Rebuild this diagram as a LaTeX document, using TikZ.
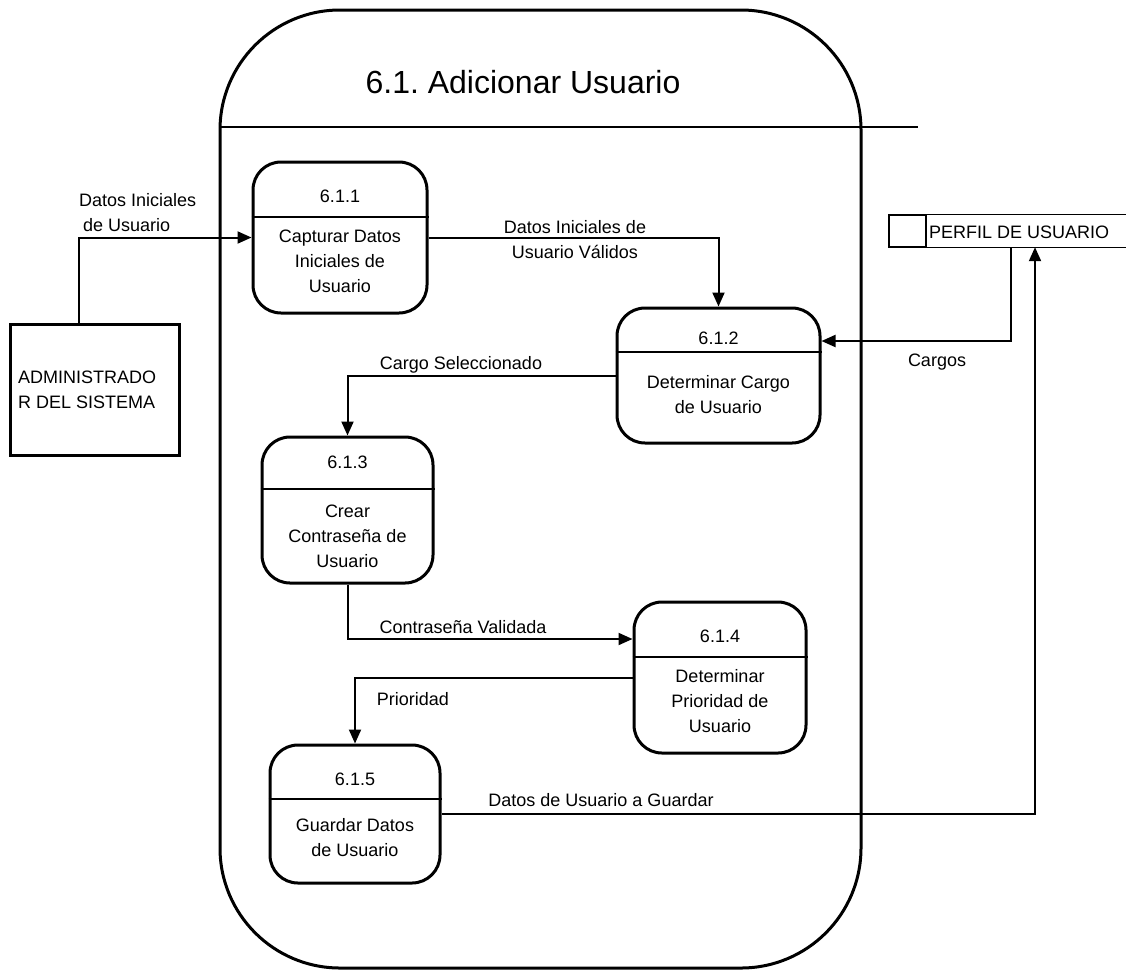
\documentclass[tikz,border=0pt]{standalone}
\usepackage{fontspec}
\setmainfont{Liberation Sans}
\usetikzlibrary{arrows.meta}
\frenchspacing
\begin{document}
\begin{tikzpicture}[x=1pt,y=-1pt,
  proc/.style={draw, line width=3pt, rounded corners=28pt, inner sep=0pt},
  divline/.style={line width=1.5pt},
  flow/.style={line width=2pt, -{Triangle[length=14pt,width=12pt]}},
  lbl/.style={inner sep=0pt, font=\fontsize{18}{25}\selectfont, align=center},
  thinline/.style={line width=1.2pt}
]
\useasboundingbox (0,0) rectangle (1126,970);

% frame
\node[draw, line width=3pt, rounded corners=120pt, minimum width=641pt, minimum height=958pt, inner sep=0pt] (frame) at (540.5,489) {};
\draw[divline] (220,127) -- (918,127);
\node[inner sep=0pt, font=\fontsize{32}{38}\selectfont, anchor=base] (title) at (523,93) {6.1. Adicionar Usuario};

% processes
\node[proc, minimum width=174pt, minimum height=151pt] (p1) at (340,237.5) {};
\draw[divline] ([yshift=20.5pt]p1.west) -- ([yshift=20.5pt]p1.east);
\node[lbl] (p1n) at (340,196) {6.1.1};
\node[lbl] (p1t) at (340,261) {Capturar Datos\\Iniciales de\\Usuario};

\node[proc, minimum width=203pt, minimum height=135pt] (p2) at (718.5,375.5) {};
\draw[divline] ([yshift=23.5pt]p2.west) -- ([yshift=23.5pt]p2.east);
\node[lbl] (p2n) at (718.5,338) {6.1.2};
\node[lbl] (p2t) at (718.5,394.5) {Determinar Cargo\\de Usuario};

\node[proc, minimum width=171pt, minimum height=146pt] (p3) at (347.5,510) {};
\draw[divline] ([yshift=21pt]p3.west) -- ([yshift=21pt]p3.east);
\node[lbl] (p3n) at (347.5,462) {6.1.3};
\node[lbl] (p3t) at (347.5,536.5) {Crear\\Contraseña de\\Usuario};

\node[proc, minimum width=172pt, minimum height=151pt] (p4) at (720,677.5) {};
\draw[divline] ([yshift=20.5pt]p4.west) -- ([yshift=20.5pt]p4.east);
\node[lbl] (p4n) at (720,636) {6.1.4};
\node[lbl] (p4t) at (720,701.5) {Determinar\\Prioridad de\\Usuario};

\node[proc, minimum width=170pt, minimum height=138pt] (p5) at (355,814) {};
\draw[divline] ([yshift=15pt]p5.west) -- ([yshift=15pt]p5.east);
\node[lbl] (p5n) at (355,779) {6.1.5};
\node[lbl] (p5t) at (355,837.5) {Guardar Datos\\de Usuario};

% external entity
\node[draw, line width=3pt, minimum width=169pt, minimum height=131pt, inner sep=0pt] (admin) at (94.5,389.5) {};
\node[lbl, align=left, anchor=west] (admint) at (18,390) {ADMINISTRADO\\R DEL SISTEMA};

% data store
\node[draw, thinline, minimum width=37pt, minimum height=32pt, inner sep=0pt] (storeid) at (907.5,231) {};
\node[minimum width=199pt, minimum height=32pt, inner sep=0pt] (store) at (1026.5,231) {};
\draw[thinline] (store.north west) -- (store.north east);
\draw[thinline] (store.south west) -- (store.south east);
\node[lbl, anchor=west] (storet) at (929,232) {PERFIL DE USUARIO};

% flows
\draw[flow] ([xshift=-15.5pt]admin.north) |- (p1.west);
\draw[flow] (p1.east) -| (p2.north);
\draw[flow] ([xshift=-15.5pt]store.south) |- ([yshift=34.5pt]p2.east);
\draw[flow] (p2.west) -| (p3.north);
\draw[flow] (p3.south) |- ([yshift=38.5pt]p4.west);
\draw[flow] (p4.west) -| (p5.north);
\draw[flow] (p5.east) -| ([xshift=8.5pt]store.south);

% flow labels
\node[lbl, align=left, anchor=west] (l1) at (79,212.5) {Datos Iniciales\\\hspace*{4pt}de Usuario};
\node[lbl] (l2) at (575,239.5) {Datos Iniciales de\\Usuario Válidos};
\node[lbl] (l3) at (461,365) {Cargo Seleccionado};
\node[lbl] (l4) at (937,362) {Cargos};
\node[lbl] (l5) at (463,627) {Contraseña Validada};
\node[lbl] (l6) at (413,699) {Prioridad};
\node[lbl] (l7) at (601,800) {Datos de Usuario a Guardar};
\end{tikzpicture}
\end{document}
